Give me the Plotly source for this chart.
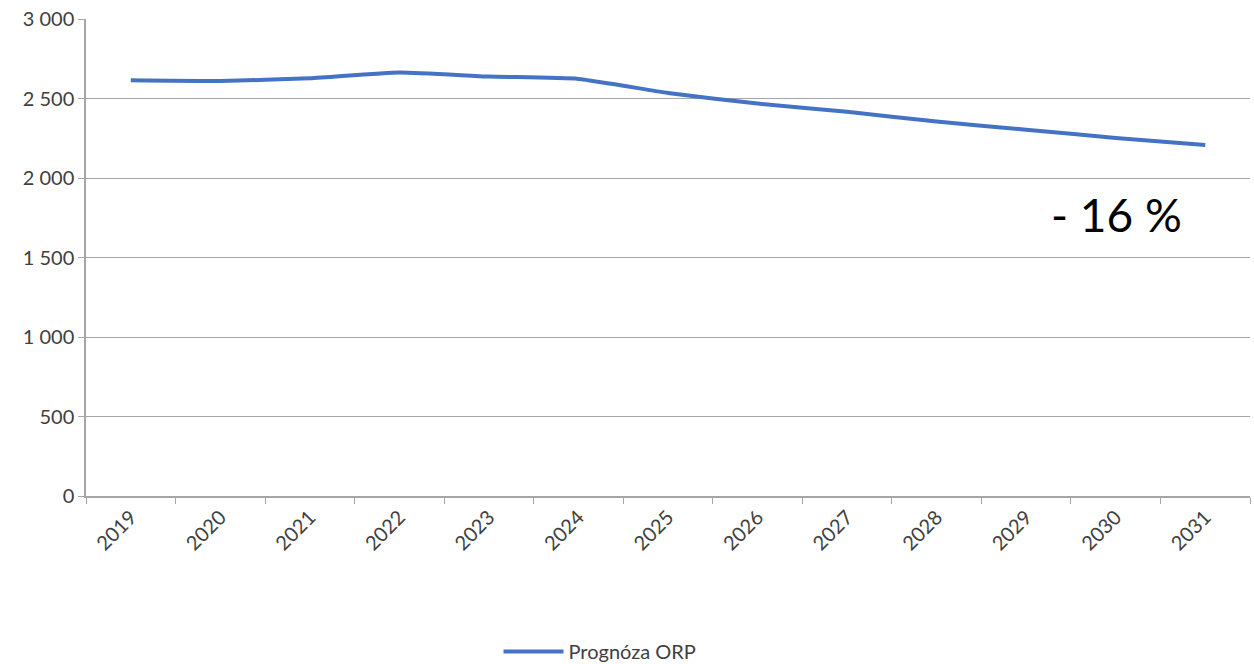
import plotly.graph_objects as go

years = ["2019", "2020", "2021", "2022", "2023", "2024", "2025",
         "2026", "2027", "2028", "2029", "2030", "2031"]
prognoza_orp = [2614, 2610, 2627, 2664, 2638, 2623, 2535,
                2468, 2416, 2355, 2304, 2252, 2208]
series_name = "Prognóza ORP"
y_ticks = [0, 500, 1000, 1500, 2000, 2500, 3000]
annotation_text = "- 16 %"

FONT = "Lato, 'Open Sans', sans-serif"

fig = go.Figure()
fig.add_trace(go.Scatter(
    x=years, y=prognoza_orp, mode="lines", name=series_name,
    line=dict(color="#4472C4", width=4, shape="spline", smoothing=0.5),
))

fig.update_layout(
    width=1254, height=664,
    margin=dict(l=86, r=4, t=19, b=168, autoexpand=False),
    paper_bgcolor="white", plot_bgcolor="white",
    separators=", ",
    font=dict(family=FONT, size=19, color="#404040"),
    showlegend=True,
    legend=dict(orientation="h", x=0.4416, xanchor="center", y=-0.326, yanchor="middle",
                itemwidth=60,
                font=dict(family=FONT, size=20, color="#404040")),
    xaxis=dict(
        type="category", showgrid=False, showline=True, linecolor="#a6a6a6", linewidth=1.5,
        ticks="outside", tickson="boundaries", ticklen=6, tickcolor="#a6a6a6",
        tickangle=-45, tickfont=dict(family=FONT, size=20, color="#404040"),
        range=[-0.5, len(years) - 0.5], automargin=False,
    ),
    yaxis=dict(
        range=[0, 3000], tickvals=y_ticks, tickformat=",d",
        showgrid=True, gridcolor="#a6a6a6", gridwidth=1.2,
        showline=True, linecolor="#a6a6a6", linewidth=1.5,
        ticks="outside", ticklen=6, tickcolor="#a6a6a6",
        tickfont=dict(family=FONT, size=20, color="#404040"),
        zeroline=False, automargin=False,
    ),
    annotations=[dict(
        x=0.885, y=0.591, xref="paper", yref="paper", xanchor="center", yanchor="middle",
        text=annotation_text, showarrow=False,
        font=dict(family=FONT, size=46, color="black"),
    )],
)

fig.write_html("out.html", config={"displayModeBar": False},
               post_script="document.body.style.margin='0';")
